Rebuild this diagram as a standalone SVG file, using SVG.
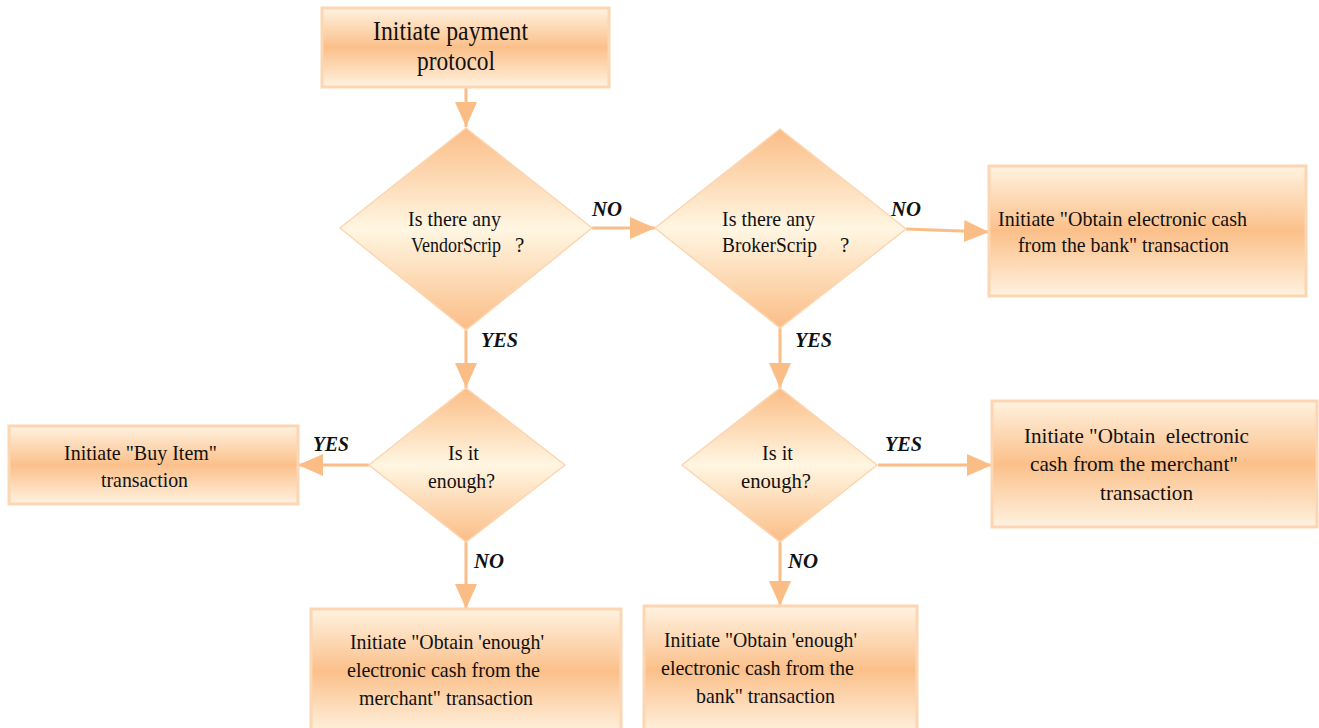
<svg xmlns="http://www.w3.org/2000/svg" width="1319" height="728" viewBox="0 0 1319 728">
<defs>
<linearGradient id="gBox" x1="0" y1="0" x2="0" y2="1">
<stop offset="0" stop-color="#fff2e0"/>
<stop offset="0.5" stop-color="#fbc08a"/>
<stop offset="1" stop-color="#fff2e0"/>
</linearGradient>
<linearGradient id="gDia" x1="0" y1="0" x2="0" y2="1">
<stop offset="0" stop-color="#fbbd86"/>
<stop offset="0.5" stop-color="#fff6e2"/>
<stop offset="1" stop-color="#fbbd86"/>
</linearGradient>
<marker id="ah" markerUnits="userSpaceOnUse" markerWidth="26" markerHeight="22" refX="25" refY="11" orient="auto">
<path d="M0,0 L25,11 L0,22 z" fill="#fbbd86"/>
</marker>
<style>
.box{fill:url(#gBox);stroke:#fcd6b2;stroke-width:3}
.dia{fill:url(#gDia);stroke:#fcd6b2;stroke-width:1.5}
.t{font-family:"Liberation Serif","Times New Roman",serif;font-size:21px;fill:#111}
.tt{font-family:"Liberation Serif","Times New Roman",serif;font-size:27px;fill:#111}
.lb{font-family:"Liberation Serif","Times New Roman",serif;font-size:20px;font-weight:bold;font-style:italic;fill:#111}
.c{fill:none;stroke:#fbbd86;stroke-width:3;marker-end:url(#ah)}
</style>
</defs>

<g id="connectors">
<line class="c" x1="466" y1="87" x2="466" y2="127"/>
<line class="c" x1="592" y1="228" x2="655" y2="228"/>
<line class="c" x1="906" y1="229" x2="989" y2="232"/>
<line class="c" x1="466" y1="330" x2="466" y2="388"/>
<line class="c" x1="780" y1="328" x2="780" y2="388"/>
<line class="c" x1="369" y1="465" x2="298" y2="465"/>
<line class="c" x1="878" y1="465" x2="992" y2="465"/>
<line class="c" x1="466" y1="542" x2="466" y2="609"/>
<line class="c" x1="780" y1="542" x2="780" y2="606"/>
<text class="lb" x="592" y="216" textLength="30" lengthAdjust="spacingAndGlyphs">NO</text>
<text class="lb" x="891" y="216" textLength="30" lengthAdjust="spacingAndGlyphs">NO</text>
<text class="lb" x="481" y="347" textLength="37" lengthAdjust="spacingAndGlyphs">YES</text>
<text class="lb" x="795" y="347" textLength="37" lengthAdjust="spacingAndGlyphs">YES</text>
<text class="lb" x="313" y="451" textLength="36" lengthAdjust="spacingAndGlyphs">YES</text>
<text class="lb" x="885" y="451" textLength="37" lengthAdjust="spacingAndGlyphs">YES</text>
<text class="lb" x="474" y="568" textLength="30" lengthAdjust="spacingAndGlyphs">NO</text>
<text class="lb" x="788" y="568" textLength="30" lengthAdjust="spacingAndGlyphs">NO</text>
</g>

<g id="start">
<rect class="box" x="322" y="8" width="287" height="79"/>
<text class="tt" x="373" y="40" textLength="155" lengthAdjust="spacingAndGlyphs">Initiate payment</text>
<text class="tt" x="417" y="70" textLength="78" lengthAdjust="spacingAndGlyphs">protocol</text>
</g>

<g id="vendorscrip">
<polygon class="dia" points="466,128 592,228 466,330 340,228"/>
<text class="t" x="408" y="226" textLength="93" lengthAdjust="spacingAndGlyphs">Is there any</text>
<text class="t" y="252"><tspan x="411" textLength="90" lengthAdjust="spacingAndGlyphs">VendorScrip</tspan><tspan x="515">?</tspan></text>
</g>

<g id="brokerscrip">
<polygon class="dia" points="780,129 906,229 780,328 655,228"/>
<text class="t" x="722" y="226" textLength="93" lengthAdjust="spacingAndGlyphs">Is there any</text>
<text class="t" y="252"><tspan x="722" textLength="95" lengthAdjust="spacingAndGlyphs">BrokerScrip</tspan><tspan x="840">?</tspan></text>
</g>

<g id="bank-cash">
<rect class="box" x="989" y="166" width="317" height="130"/>
<text class="t" x="998" y="226" textLength="249" lengthAdjust="spacingAndGlyphs">Initiate "Obtain electronic cash</text>
<text class="t" x="1018" y="252" textLength="211" lengthAdjust="spacingAndGlyphs">from the bank" transaction</text>
</g>

<g id="enough-left">
<polygon class="dia" points="466,388 565,465 466,542 369,465"/>
<text class="t" x="448" y="460" textLength="31" lengthAdjust="spacingAndGlyphs">Is it</text>
<text class="t" x="428" y="488" textLength="67" lengthAdjust="spacingAndGlyphs">enough?</text>
</g>

<g id="enough-right">
<polygon class="dia" points="780,388 877,465 780,542 682,465"/>
<text class="t" x="762" y="460" textLength="31" lengthAdjust="spacingAndGlyphs">Is it</text>
<text class="t" x="741" y="488" textLength="70" lengthAdjust="spacingAndGlyphs">enough?</text>
</g>

<g id="buy-item">
<rect class="box" x="9" y="426" width="289" height="78"/>
<text class="t" x="64" y="460" textLength="153" lengthAdjust="spacingAndGlyphs">Initiate "Buy Item"</text>
<text class="t" x="101" y="487" textLength="87" lengthAdjust="spacingAndGlyphs">transaction</text>
</g>

<g id="merchant-cash">
<rect class="box" x="992" y="401" width="325" height="126"/>
<text class="t" x="1024" y="443" textLength="225" lengthAdjust="spacingAndGlyphs" xml:space="preserve">Initiate "Obtain  electronic</text>
<text class="t" x="1030" y="471" textLength="208" lengthAdjust="spacingAndGlyphs">cash from the merchant"</text>
<text class="t" x="1100" y="500" textLength="93" lengthAdjust="spacingAndGlyphs">transaction</text>
</g>

<g id="enough-merchant">
<rect class="box" x="311" y="609" width="310" height="125"/>
<text class="t" x="350" y="649" textLength="194" lengthAdjust="spacingAndGlyphs">Initiate "Obtain 'enough'</text>
<text class="t" x="347" y="677" textLength="193" lengthAdjust="spacingAndGlyphs">electronic cash from the</text>
<text class="t" x="359" y="705" textLength="174" lengthAdjust="spacingAndGlyphs">merchant" transaction</text>
</g>

<g id="enough-bank">
<rect class="box" x="644" y="606" width="273" height="128"/>
<text class="t" x="664" y="647" textLength="193" lengthAdjust="spacingAndGlyphs">Initiate "Obtain 'enough'</text>
<text class="t" x="661" y="675" textLength="193" lengthAdjust="spacingAndGlyphs">electronic cash from the</text>
<text class="t" x="696" y="703" textLength="139" lengthAdjust="spacingAndGlyphs">bank" transaction</text>
</g>
</svg>
